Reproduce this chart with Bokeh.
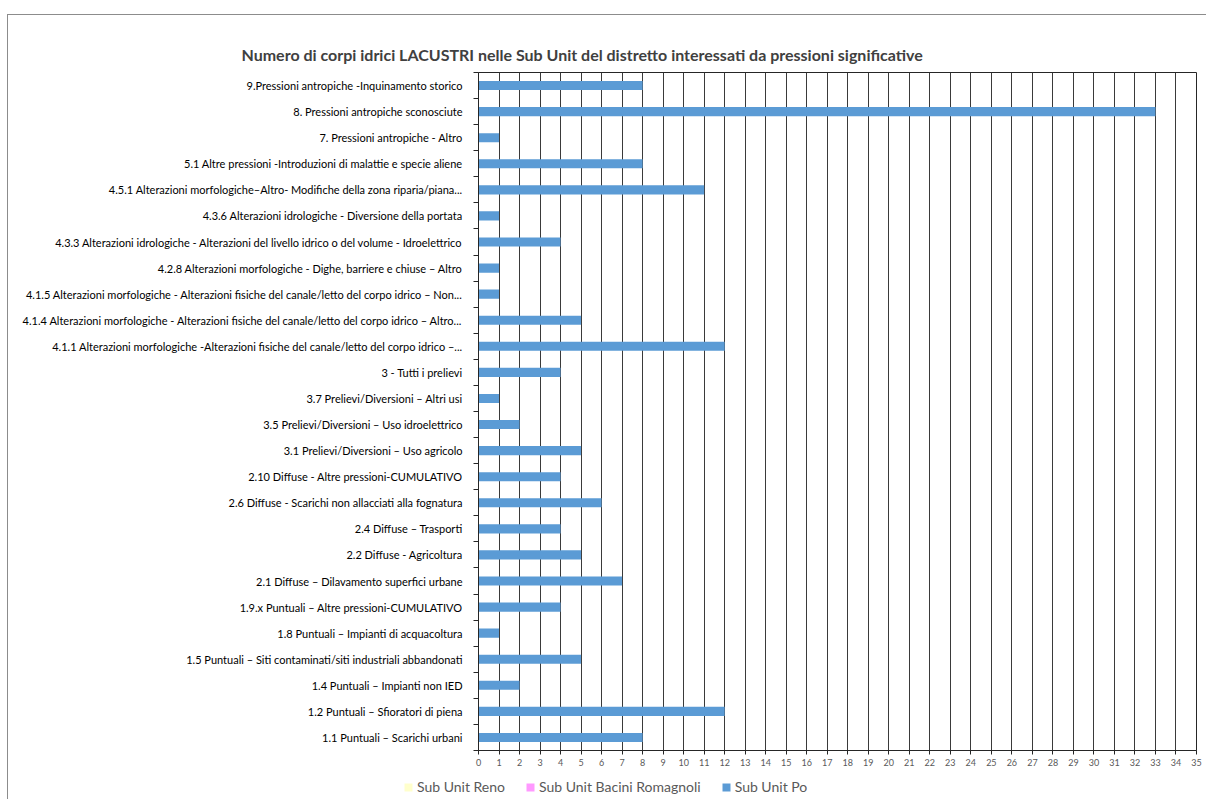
from bokeh.plotting import figure
from bokeh.models import (Range1d, FixedTicker, Legend, LegendItem, ColumnDataSource, Title)
from bokeh.embed import file_html
from bokeh.resources import INLINE

categories = [
    "1.1 Puntuali – Scarichi urbani",
    "1.2 Puntuali – Sfioratori di piena",
    "1.4 Puntuali – Impianti non IED",
    "1.5 Puntuali – Siti contaminati/siti industriali abbandonati",
    "1.8 Puntuali – Impianti di acquacoltura",
    "1.9.x Puntuali – Altre pressioni-CUMULATIVO",
    "2.1 Diffuse – Dilavamento superfici urbane",
    "2.2 Diffuse - Agricoltura",
    "2.4 Diffuse – Trasporti",
    "2.6 Diffuse - Scarichi non allacciati alla fognatura",
    "2.10 Diffuse - Altre pressioni-CUMULATIVO",
    "3.1 Prelievi/Diversioni – Uso agricolo",
    "3.5 Prelievi/Diversioni – Uso idroelettrico",
    "3.7 Prelievi/Diversioni – Altri usi",
    "3 - Tutti i prelievi",
    "4.1.1 Alterazioni morfologiche -Alterazioni fisiche del canale/letto del corpo idrico –...",
    "4.1.4 Alterazioni morfologiche - Alterazioni fisiche del canale/letto del corpo idrico – Altro...",
    "4.1.5 Alterazioni morfologiche - Alterazioni fisiche del canale/letto del corpo idrico – Non...",
    "4.2.8 Alterazioni morfologiche - Dighe, barriere e chiuse – Altro",
    "4.3.3 Alterazioni idrologiche - Alterazioni del livello idrico o del volume - Idroelettrico",
    "4.3.6 Alterazioni idrologiche - Diversione della portata",
    "4.5.1 Alterazioni morfologiche–Altro- Modifiche della zona riparia/piana...",
    "5.1 Altre pressioni -Introduzioni di malattie e specie aliene",
    "7. Pressioni antropiche - Altro",
    "8. Pressioni antropiche sconosciute",
    "9.Pressioni antropiche -Inquinamento storico",
]
sub_unit_po = [8, 12, 2, 5, 1, 4, 7, 5, 4, 6, 4, 5, 2, 1, 4, 12, 5, 1, 1, 4, 1, 11, 8, 1, 33, 8]
sub_unit_reno = [0] * len(categories)
sub_unit_romagnoli = [0] * len(categories)
series_names = ["Sub Unit Reno", "Sub Unit Bacini Romagnoli", "Sub Unit Po"]
series_colors = ["#FFFFCC", "#FF99FF", "#5B9BD5"]
x_ticks = list(range(0, 36))

title_text = "Numero di corpi idrici LACUSTRI  nelle Sub Unit del distretto interessati da pressioni significative"

n = len(categories)
ypos = [i + 0.5 for i in range(n)]

p = figure(width=1199, height=755, output_backend="svg", toolbar_location=None,
           x_range=Range1d(0, 35), y_range=Range1d(0, n),
           min_border_left=470, min_border_right=11, min_border_top=57, min_border_bottom=20)
p.margin = (14, 0, 0, 7)
p.styles = {"border-left": "1px solid #8c8c8c", "border-top": "1px solid #8c8c8c"}
p.background_fill_color = "white"
p.border_fill_color = "white"
p.outline_line_color = "#262626"
p.outline_line_width = 1

src = ColumnDataSource(dict(y=ypos, po=sub_unit_po, reno=sub_unit_reno, rom=sub_unit_romagnoli))
p.hbar(y="y", left=0, right="reno", height=0.35, source=src, fill_color=series_colors[0], line_color=None)
p.hbar(y="y", left=0, right="rom", height=0.35, source=src, fill_color=series_colors[1], line_color=None)
p.hbar(y="y", left=0, right="po", height=0.35, source=src, fill_color=series_colors[2], line_color=None)

# x axis
p.xaxis.ticker = FixedTicker(ticks=x_ticks)
p.xaxis.major_label_text_font = "Lato"
p.xaxis.major_label_text_font_size = "9px"
p.xaxis.major_label_text_color = "#595959"
p.xaxis.axis_line_color = "#262626"
p.xaxis.major_tick_line_color = "#262626"
p.xaxis.major_tick_out = 4
p.xaxis.major_tick_in = 0
p.xaxis.minor_tick_line_color = None
p.xaxis.major_label_standoff = 4

# y axis
p.yaxis.ticker = FixedTicker(ticks=ypos, minor_ticks=list(range(0, n + 1)))
p.yaxis.major_label_overrides = {y: c for y, c in zip(ypos, categories)}
p.yaxis.major_label_text_font = "Lato"
p.yaxis.major_label_text_font_size = "11px"
p.yaxis.major_label_text_color = "#000000"
p.yaxis.major_tick_line_color = None
p.yaxis.minor_tick_line_color = "#262626"
p.yaxis.minor_tick_out = 5
p.yaxis.minor_tick_in = 0
p.yaxis.axis_line_color = "#262626"
p.yaxis.major_label_standoff = 10

p.xgrid.grid_line_color = "#3a3a3a"
p.xgrid.grid_line_width = 1
p.xgrid.ticker = FixedTicker(ticks=x_ticks)
p.ygrid.grid_line_color = None

t = Title(text=title_text, align="left", offset=-237, text_font="Lato", text_font_size="16px",
          text_font_style="bold", text_color="#404040", standoff=18)
p.add_layout(t, "above")

# legend strip (separate small figure so the legend is not clipped by the plot frame)
lf = figure(width=1199, height=30, output_backend="svg", toolbar_location=None,
            x_range=Range1d(0, 1), y_range=Range1d(0, 1),
            min_border_left=0, min_border_right=0, min_border_top=0, min_border_bottom=0)
lf.margin = (0, 0, 0, 7)
lf.styles = {"border-left": "1px solid #8c8c8c"}
lf.axis.visible = False
lf.grid.visible = False
lf.outline_line_color = None
lf.background_fill_color = "white"
lf.border_fill_color = "white"
items = []
for name, color in zip(series_names, series_colors):
    # legend-only glyph, kept outside the visible range
    r = lf.hbar(y=[-5], left=[0], right=[1], height=0.3, fill_color=color, line_color=None)
    items.append(LegendItem(label=name, renderers=[r]))
legend = Legend(items=items, orientation="horizontal", location=(395, 4), border_line_color=None,
                background_fill_alpha=0, label_text_font="Lato", label_text_font_size="14px",
                label_text_color="#595959", glyph_width=10, glyph_height=10, spacing=20,
                padding=2, margin=0, label_standoff=4, label_height=14)
lf.add_layout(legend, "center")

open("out.html", "w").write(file_html([p, lf], INLINE))
